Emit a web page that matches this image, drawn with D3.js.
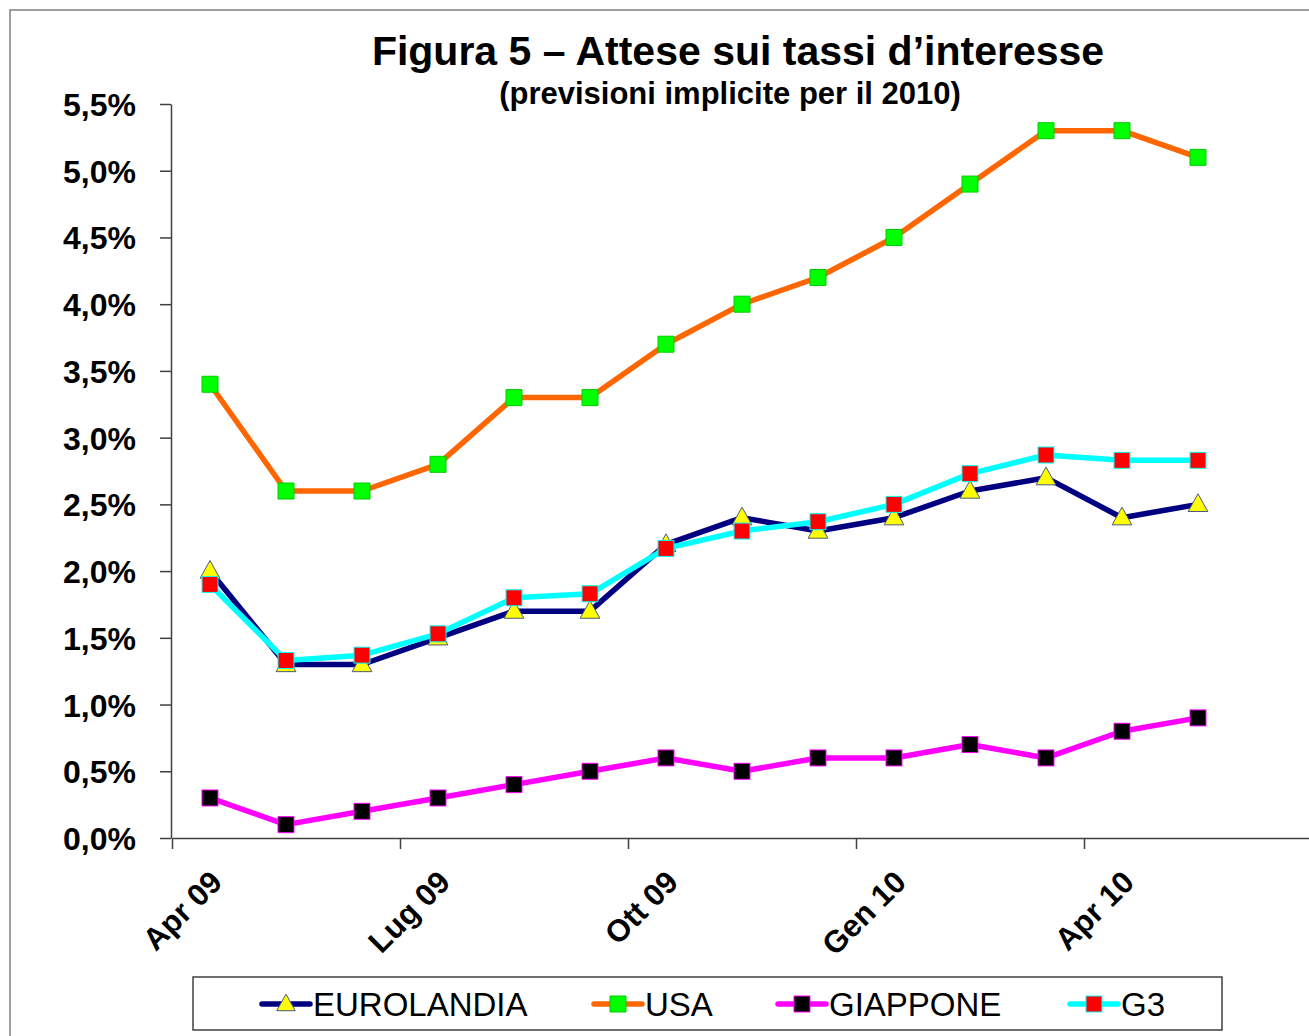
<!DOCTYPE html>
<html>
<head>
<meta charset="utf-8">
<script src="https://cdn.jsdelivr.net/npm/d3@7"></script>
<style>
  body { margin: 0; background: #fff; }
  svg { display: block; font-family: "Liberation Sans", Arial, sans-serif; }
</style>
</head>
<body>
<svg id="chart" width="1309" height="1036"></svg>
<script>
// Monthly observations, Apr 09 .. May 10
const months = ['Apr 09', 'Mag 09', 'Giu 09', 'Lug 09', 'Ago 09', 'Set 09', 'Ott 09',
                'Nov 09', 'Dic 09', 'Gen 10', 'Feb 10', 'Mar 10', 'Apr 10', 'Mag 10'];

const eurolandia = [2.0, 1.3, 1.3, 1.5, 1.7, 1.7, 2.2, 2.4, 2.3, 2.4, 2.6, 2.7, 2.4, 2.5];
const usa        = [3.4, 2.6, 2.6, 2.8, 3.3, 3.3, 3.7, 4.0, 4.2, 4.5, 4.9, 5.3, 5.3, 5.1];
const giappone   = [0.3, 0.1, 0.2, 0.3, 0.4, 0.5, 0.6, 0.5, 0.6, 0.6, 0.7, 0.6, 0.8, 0.9];
const g3         = [1.9, 1.33, 1.37, 1.53, 1.8, 1.83, 2.17, 2.3, 2.37, 2.5, 2.73, 2.87, 2.83, 2.83];

// quarter tick labels (month index -> label)
const tickMonths = [0, 3, 6, 9, 12];
const tickLabels = ['Apr 09', 'Lug 09', 'Ott 09', 'Gen 10', 'Apr 10'];

const yTicks = [0, 0.5, 1, 1.5, 2, 2.5, 3, 3.5, 4, 4.5, 5, 5.5];

const series = [
    { name: 'EUROLANDIA', values: eurolandia, line: '#000080', fill: '#ffff00', stroke: '#4a5a7a', shape: 'triangle' },
    { name: 'USA',        values: usa,        line: '#ff6600', fill: '#00ff00', stroke: '#00cc00', shape: 'square' },
    { name: 'GIAPPONE',   values: giappone,   line: '#ff00ff', fill: '#000000', stroke: '#ff00ff', shape: 'square' },
    { name: 'G3',         values: g3,         line: '#00ffff', fill: '#ff0000', stroke: '#00ffff', shape: 'square' }
];

const svg = d3.select('#chart');

// outer frame
svg.append('rect')
    .attr('x', 10).attr('y', 10)
    .attr('width', 1320).attr('height', 1040)
    .attr('fill', 'none')
    .attr('stroke', '#7f7f7f')
    .attr('stroke-width', 1.5);

// scales
const x = d3.scaleLinear().domain([0, 15]).range([172, 1312]);
const y = d3.scaleLinear().domain([0, 5.5]).range([838, 104]);

const fmt = v => d3.format('.1f')(v).replace('.', ',') + '%';

// title
svg.append('text')
    .attr('x', 738).attr('y', 65)
    .attr('text-anchor', 'middle')
    .attr('font-size', 41).attr('font-weight', 'bold')
    .text('Figura 5 – Attese sui tassi d’interesse');

svg.append('text')
    .attr('x', 730).attr('y', 104)
    .attr('text-anchor', 'middle')
    .attr('font-size', 31).attr('font-weight', 'bold')
    .text('(previsioni implicite per il 2010)');

// y axis
const yAxis = svg.append('g')
    .attr('transform', 'translate(171,0)')
    .call(d3.axisLeft(y).tickValues(yTicks).tickFormat(fmt).tickSize(11).tickSizeOuter(0).tickPadding(24));

yAxis.select('.domain').attr('stroke', '#404040').attr('stroke-width', 1.5);
yAxis.selectAll('.tick line').attr('stroke', '#404040').attr('stroke-width', 1.5);
yAxis.selectAll('.tick text')
    .attr('font-size', 32).attr('font-weight', 'bold')
    .attr('font-family', '"Liberation Sans", Arial, sans-serif')
    .attr('fill', '#000')
    .attr('dy', '0.36em');

// x axis
const xAxis = svg.append('g')
    .attr('transform', `translate(0,${y(0)})`)
    .call(d3.axisBottom(x).tickValues(tickMonths).tickFormat('').tickSize(11).tickSizeOuter(0));

xAxis.select('.domain').attr('stroke', '#404040').attr('stroke-width', 1.5);
xAxis.selectAll('.tick line').attr('stroke', '#404040').attr('stroke-width', 1.5);

svg.append('g').selectAll('text')
    .data(tickMonths)
    .join('text')
    .attr('transform', d => `translate(${x(d) + 52},${y(0) + 46}) rotate(-45)`)
    .attr('text-anchor', 'end')
    .attr('font-size', 31).attr('font-weight', 'bold')
    .text((d, i) => tickLabels[i]);

// series
const line = d3.line()
    .x((d, i) => x(i + 0.5))
    .y(d => y(d));

const markerPath = (shape, s) => {
    if (shape === 'triangle') {
        return `M0,${-s * 0.62}L${s * 0.58},${s * 0.42}L${-s * 0.58},${s * 0.42}Z`;
    }
    return `M${-s / 2},${-s / 2}h${s}v${s}h${-s}Z`;
};

const plot = svg.append('g');

series.forEach(s => {
    const g = plot.append('g');
    g.append('path')
        .datum(s.values)
        .attr('d', line)
        .attr('fill', 'none')
        .attr('stroke', s.line)
        .attr('stroke-width', 5.5)
        .attr('stroke-linejoin', 'round');

    g.selectAll('path.marker')
        .data(s.values)
        .join('path')
        .attr('class', 'marker')
        .attr('transform', (d, i) => `translate(${x(i + 0.5)},${y(d)})`)
        .attr('d', markerPath(s.shape, s.shape === 'triangle' ? 17 : 16))
        .attr('fill', s.fill)
        .attr('stroke', s.stroke)
        .attr('stroke-width', 1);
});

// legend
const legend = svg.append('g');
legend.append('rect')
    .attr('x', 193).attr('y', 977)
    .attr('width', 1029).attr('height', 53)
    .attr('fill', '#fff')
    .attr('stroke', '#404040')
    .attr('stroke-width', 1.5);

const legendX = [262, 594, 778, 1070];

series.forEach((s, i) => {
    const lx = legendX[i];
    const g = legend.append('g').attr('transform', `translate(${lx},1004)`);
    g.append('line')
        .attr('x1', 0).attr('x2', 48)
        .attr('stroke', s.line)
        .attr('stroke-width', 5.5)
        .attr('stroke-linecap', 'round');
    g.append('path')
        .attr('transform', 'translate(24,0)')
        .attr('d', markerPath(s.shape, 16))
        .attr('fill', s.fill)
        .attr('stroke', s.stroke)
        .attr('stroke-width', 1);
    g.append('text')
        .attr('x', 51).attr('y', 12)
        .attr('font-size', 33)
        .text(s.name);
});
</script>
</body>
</html>
